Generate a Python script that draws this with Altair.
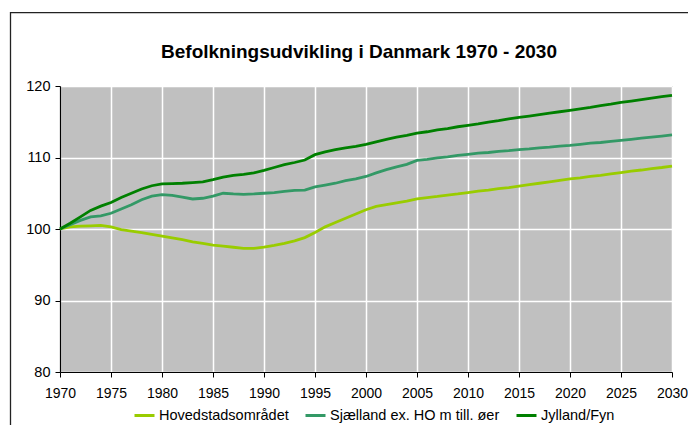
import altair as alt
import pandas as pd

years = list(range(1970, 2031))

hovedstad = [
    100.0, 100.3, 100.4, 100.45, 100.5, 100.3, 99.9, 99.7, 99.5, 99.25,
    99.0, 98.75, 98.5, 98.2, 98.0, 97.75, 97.6, 97.45, 97.3, 97.3,
    97.45, 97.7, 98.0, 98.35, 98.8, 99.5, 100.3, 100.9, 101.5, 102.1,
    102.7, 103.15, 103.4, 103.65, 103.9, 104.2, 104.4, 104.55, 104.75, 104.9,
    105.1, 105.3, 105.45, 105.65, 105.8, 106.0, 106.2, 106.4, 106.6, 106.8,
    107.0, 107.15, 107.35, 107.5, 107.7, 107.9, 108.1, 108.25, 108.45, 108.6,
    108.8,
]

sjaelland = [
    100.0, 100.6, 101.2, 101.7, 101.85, 102.2, 102.8, 103.4, 104.1, 104.6,
    104.8, 104.7, 104.45, 104.2, 104.3, 104.6, 105.0, 104.9, 104.85, 104.9,
    105.0, 105.1, 105.25, 105.4, 105.45, 105.9, 106.15, 106.4, 106.75, 107.0,
    107.35, 107.85, 108.3, 108.7, 109.05, 109.6, 109.75, 109.95, 110.1, 110.3,
    110.45, 110.6, 110.7, 110.85, 110.95, 111.1, 111.2, 111.35, 111.45, 111.6,
    111.7, 111.85, 112.0, 112.1, 112.25, 112.4, 112.55, 112.7, 112.85, 113.0,
    113.15,
]

jylland = [
    100.0, 100.8, 101.7, 102.6, 103.2, 103.7, 104.4, 105.0, 105.6, 106.05,
    106.3, 106.35, 106.4, 106.5, 106.6, 106.9, 107.25, 107.5, 107.65, 107.85,
    108.2, 108.6, 109.0, 109.3, 109.65, 110.4, 110.8, 111.1, 111.35, 111.55,
    111.85, 112.2, 112.55, 112.85, 113.1, 113.4, 113.6, 113.85, 114.05, 114.3,
    114.5, 114.7, 114.95, 115.15, 115.4, 115.6, 115.8, 116.0, 116.2, 116.4,
    116.6, 116.8, 117.0, 117.25, 117.45, 117.7, 117.9, 118.1, 118.3, 118.5,
    118.7,
]

regions = ["Hovedstadsområdet", "Sjælland ex. HO m till. øer", "Jylland/Fyn"]
colors = ["#99CC00", "#339966", "#008000"]
x_ticks = list(range(1970, 2031, 5))
y_ticks = [80, 90, 100, 110, 120]
title_text = ["Befolkningsudvikling i Danmark 1970 - 2030"]

rows = []
for name, series in zip(regions, [hovedstad, sjaelland, jylland]):
    for yr, v in zip(years, series):
        rows.append({"year": yr, "region": name, "value": v})
df = pd.DataFrame(rows)

FONT = "Liberation Sans"

lines = alt.Chart(df).mark_line(strokeWidth=2.8).encode(
    x=alt.X("year:Q",
            scale=alt.Scale(domain=[1970, 2030], nice=False, zero=False),
            axis=alt.Axis(values=x_ticks, format="d", title=None,
                          labelFlush=False, labelOverlap=False)),
    y=alt.Y("value:Q",
            scale=alt.Scale(domain=[80, 120], nice=False, zero=False),
            axis=alt.Axis(values=y_ticks, title=None)),
    color=alt.Color("region:N",
                    scale=alt.Scale(domain=regions, range=colors),
                    legend=alt.Legend(title=None, orient="none", direction="horizontal",
                                      legendX=73, legendY=318,
                                      symbolType="stroke", symbolSize=400,
                                      symbolStrokeWidth=3, labelOffset=3,
                                      columnPadding=10, labelFont=FONT,
                                      labelFontSize=14.5, labelColor="#000000",
                                      labelLimit=400)),
    detail="region:N",
    order="year:Q",
)

frame = alt.Chart(pd.DataFrame({"k": [0]})).mark_rect(
    fill=None, stroke="#222222", strokeWidth=1.3
).encode(
    x=alt.value(-49.5), x2=alt.value(700), y=alt.value(-73.3), y2=alt.value(420)
)

title = alt.Chart(pd.DataFrame({"t": title_text})).mark_text(
    font=FONT, fontSize=19, fontWeight="bold", color="#000000",
    align="center", baseline="alphabetic",
).encode(
    text="t:N", x=alt.value(299), y=alt.value(-28)
)

chart = alt.layer(frame, lines, title).properties(
    width=612,
    height=286,
    padding={"left": 52, "top": 78, "right": 16, "bottom": 53},
    autosize=alt.AutoSizeParams(type="none"),
).configure_view(
    fill="#C0C0C0", stroke="#999999", strokeWidth=1
).configure_axis(
    domainColor="#000000", tickColor="#000000", tickSize=5,
    gridColor="#FFFFFF", gridWidth=1.5, gridOpacity=1,
    labelFont=FONT, labelFontSize=14.5, labelColor="#000000",
    domainWidth=1.2,
).configure_axisY(
    labelPadding=5
).configure_axisX(
    labelPadding=9, labelFontSize=14
)

chart.save("out.html", embed_options={"renderer": "svg", "actions": False})
